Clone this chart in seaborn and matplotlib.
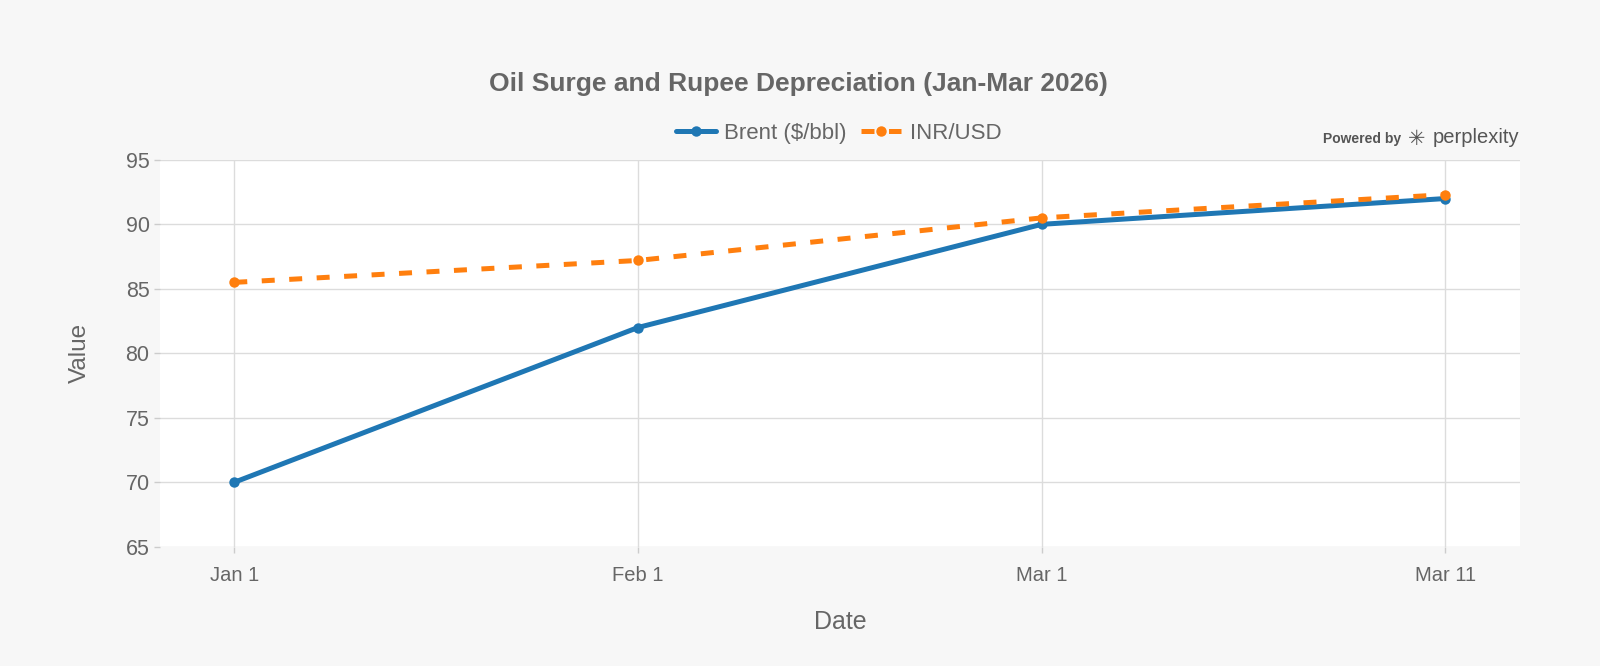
import pandas as pd
import matplotlib
matplotlib.use('Agg')
import matplotlib.pyplot as plt
import seaborn as sns

# Chart data
dates = ['Jan 1', 'Feb 1', 'Mar 1', 'Mar 11']
brent = [70, 82, 90, 92]
inr_usd = [85.5, 87.2, 90.5, 92.3]
series_names = ['Brent ($/bbl)', 'INR/USD']
y_ticks = [65, 70, 75, 80, 85, 90, 95]

df = pd.DataFrame({'Date': dates * 2,
                   'Value': brent + inr_usd,
                   'Series': [series_names[0]] * 4 + [series_names[1]] * 4})

sns.set_style('white')
plt.rcParams['font.family'] = ['Liberation Sans', 'DejaVu Sans']

text_col = '#666666'
fig = plt.figure(figsize=(16, 6.66), dpi=100, facecolor='#f7f7f7')
ax = fig.add_axes([0.1, 0.179, 0.85, 0.581])
ax.set_facecolor('white')

sns.lineplot(data=df, x='Date', y='Value', hue='Series', style='Series',
             palette=['#1f77b4', '#ff7f0e'], dashes=[(None, None), (2.6, 2.9)],
             markers=['o', 'o'], markersize=7.5, markeredgewidth=0, linewidth=3.6,
             sort=False, ax=ax)

ax.set_ylim(65, 95)
ax.set_yticks(y_ticks)
ax.set_xlim(-0.184, 3.185)
ax.grid(True, color='#dcdcdc', linewidth=1)
ax.set_axisbelow(True)
for s in ax.spines.values():
    s.set_visible(False)
ax.tick_params(axis='both', bottom=True, left=True, length=4.5, width=1,
               color='#cccccc', labelcolor=text_col)
ax.tick_params(axis='y', labelsize=15.5, pad=3)
ax.tick_params(axis='x', labelsize=14.5, pad=9)
ax.set_xlabel('Date', fontsize=18, color=text_col, labelpad=18)
ax.set_ylabel('Value', fontsize=17.5, color=text_col, labelpad=25)

fig.text(0.499, 0.874, 'Oil Surge and Rupee Depreciation (Jan-Mar 2026)',
         ha='center', va='center', fontsize=19, fontweight='bold', color=text_col)

leg = ax.legend(loc='center', bbox_to_anchor=(0.524, 0.800), bbox_transform=fig.transFigure,
                ncol=2, frameon=False, fontsize=16, handlelength=1.8,
                columnspacing=0.65, handletextpad=0.38)
for t in leg.get_texts():
    t.set_color(text_col)

fig.text(0.827, 0.791, 'Powered by', ha='left', va='center', fontsize=10,
         color='#555555', fontweight='bold')
fig.text(0.8855, 0.791, '\u2733', ha='center', va='center', fontsize=15,
         color='#555555', family=['DejaVu Sans'])
fig.text(0.8955, 0.793, 'perplexity', ha='left', va='center', fontsize=14.5,
         color='#555555')

fig.savefig('out.png', dpi=100, facecolor=fig.get_facecolor())
